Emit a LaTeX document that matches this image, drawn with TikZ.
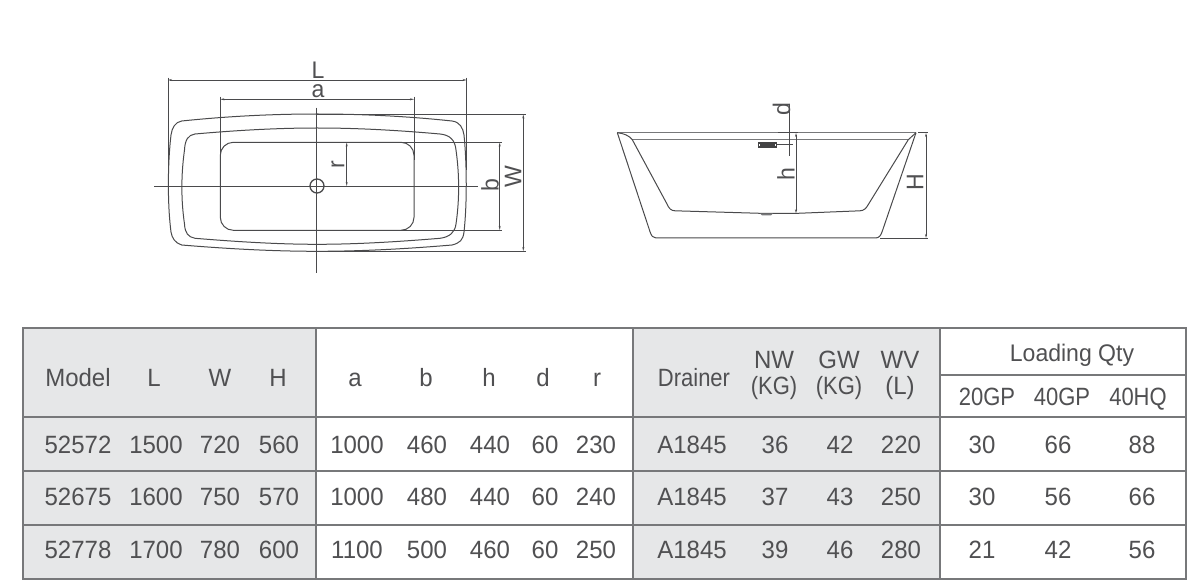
\documentclass[tikz,border=0pt]{standalone}
\usepackage{fontspec}
\usetikzlibrary{arrows.meta}
\setmainfont[FakeStretch=0.96]{Liberation Sans}
\newfontfamily\tightf[FakeStretch=0.88]{Liberation Sans}
\definecolor{txt}{HTML}{505052}
\definecolor{rule}{HTML}{77787A}
\definecolor{band}{HTML}{E6E7E8}
\definecolor{ink}{HTML}{4A4A4C}
\tikzset{
  cell/.style={inner sep=0pt,text=txt,font=\fontsize{25}{25}\selectfont,text height=17pt,text depth=0pt},
  small/.style={cell,font=\fontsize{24}{24}\selectfont},
  dimtxt/.style={inner sep=0pt,text=txt,font=\fontsize{24}{24}\selectfont},
  grid/.style={draw=rule,line width=1.5pt},
  tub/.style={draw=ink,line width=1pt,line join=round},
  rim/.style={draw=rule,line width=1.3pt},
  dim/.style={draw=ink,line width=.8pt},
  span/.style={dim,{Stealth[length=4pt,width=2pt]}-{Stealth[length=4pt,width=2pt]}},
}
\newcommand{\rowcells}[3]{%
  \foreach \cx/\ct [count=\ci] in {#3}{\node[cell] (#1-\ci) at (\cx,#2) {\ct};}}
\begin{document}
\begin{tikzpicture}[x=1pt,y=-1pt]
\useasboundingbox (0,0) rectangle (1200,588);
\fill[white] (0,0) rectangle (1200,588);
% ---------- plan view
\coordinate (pc) at (317,186);
\draw[tub] (181.7,121) .. controls (230,116) and (275,114) .. (317,114)
  .. controls (360,114) and (405,116) .. (452,121)
  .. controls (460,122) and (463,128) .. (464,135)
  .. controls (467,165) and (467,205) .. (464,232)
  .. controls (463,240) and (460,243) .. (452,245)
  .. controls (405,249) and (360,251.3) .. (317,251.3)
  .. controls (275,251.3) and (230,249) .. (181.7,245)
  .. controls (175,243) and (172,238) .. (171,232)
  .. controls (167.5,205) and (167.5,165) .. (171,135)
  .. controls (172,128) and (175,122) .. (181.7,121) -- cycle;
\draw[tub] (195,134) .. controls (240,130) and (280,128) .. (317,128)
  .. controls (355,128) and (395,130) .. (440,134)
  .. controls (450,135) and (455,140) .. (456,150)
  .. controls (459.5,175) and (459.5,200) .. (456,224)
  .. controls (455,232) and (450,237) .. (440,238.3)
  .. controls (395,242) and (355,244.3) .. (317,244.3)
  .. controls (280,244.3) and (240,242) .. (195,238.3)
  .. controls (188,237) and (185,233) .. (184.5,224)
  .. controls (181,200) and (181,175) .. (184.5,150)
  .. controls (185,140) and (188,135) .. (195,134) -- cycle;
\draw[tub,rounded corners=13pt] (220.3,142.3) rectangle (414,230.3);
\draw[dim] (154.3,186) -- (478,186);
\draw[dim] (316.7,107.7) -- (316.7,272.7);
\draw[tub,line width=1.3pt] (pc) circle (7);
% plan dimensions
\draw[dim] (168,77.7) -- (168,183);
\draw[dim] (466.7,77.7) -- (466.7,170);
\draw[span] (168,80) -- (466.7,80);
\draw[dim] (220.3,96.7) -- (220.3,160);
\draw[dim] (414,96.7) -- (414,160);
\draw[span] (220.3,99.3) -- (414,99.3);
\draw[dim] (316,114) -- (526,114);
\draw[dim] (316,251.3) -- (526,251.3);
\draw[span] (523.3,114.5) -- (523.3,251);
\draw[dim] (400,142.3) -- (501.7,142.3);
\draw[dim] (400,230.3) -- (501.7,230.3);
\draw[span] (499.7,142.5) -- (499.7,230);
\draw[span] (346.7,142.5) -- (346.7,186);
\node[dimtxt,text height=17pt,text depth=0pt] (lL) at (318,70.5) {L};
\node[dimtxt,text height=12.5pt,text depth=0pt] (la) at (318,91.5) {a};
\node[dimtxt,rotate=90] (lr) at (338,165) {r};
\node[dimtxt,rotate=90] (lb) at (490,185) {b};
\node[dimtxt,rotate=90] (lW) at (513,176.7) {W};
% ---------- side view
\draw[rim] (617.3,132.7) -- (916,132.7);
\draw[rim] (632.3,139.7) -- (908.3,139.7);
\draw[tub] (617.3,132.7) -- (650,231.7) .. controls (651.5,236) and (653,238) .. (656,238)
  -- (875,238) .. controls (879,238) and (880.5,236) .. (882,232) -- (916,132.7);
\draw[tub] (617.3,132.7) .. controls (624,133.5) and (629,135.5) .. (632.3,139.7)
  -- (667,204) .. controls (669,208.5) and (671,210.7) .. (675,210.8)
  -- (760,213.3) -- (798,213.3) -- (860,210.8)
  .. controls (864,210.5) and (866,208.5) .. (868,205) -- (908.3,139.7) -- (916,132.7);
\fill[rule] (760,213.3) -- (773,213.3) -- (771,215.5) -- (762,215.5) -- cycle;
\fill[ink!90!black] (757.7,142) rectangle (777.3,148.3);
\fill[white] (759.2,144) rectangle (760.4,146);
\fill[white] (774.6,144) rectangle (775.8,146);
\draw[dim] (777.3,144.7) -- (792.7,144.7);
\draw[dim] (778,132.7) -- (798,132.7);
\draw[dim] (789,104) -- (789,155.7);
\draw[span] (796,133) -- (796,213.3);
\draw[dim] (880,238) -- (928,238);
\draw[dim] (918,132.7) -- (928,132.7);
\draw[span] (926,133) -- (926,238);
\node[dimtxt,rotate=90] (ld) at (781.5,109) {d};
\node[dimtxt,rotate=90] (lh) at (786,174.3) {h};
\node[dimtxt,rotate=90] (lH) at (915,181.7) {H};
% ---------- table
\fill[band] (23,328) rectangle (316,579);
\fill[band] (633,328) rectangle (940,579);
\draw[grid] (23,328) rectangle (1186,579);
\draw[grid] (23,417) -- (1186,417);
\draw[grid] (23,471) -- (1186,471);
\draw[grid] (23,525) -- (1186,525);
\draw[grid] (316,328) -- (316,579);
\draw[grid] (633,328) -- (633,579);
\draw[grid] (940,328) -- (940,579);
\draw[grid] (940,375) -- (1186,375);
\rowcells{hd}{378}{78/Model,154/L,220/W,278/H,355/a,426/b,489/h,543/d,597/r,694/{\tightf Drainer}}
\rowcells{ht}{360}{774/NW,839/GW,900/WV}
\rowcells{hu}{386}{774/{\tightf (KG)},839/{\tightf (KG)},900/(L)}
\node[small] (lq) at (1072,353) {Loading Qty};
\rowcells{hq}{397}{987/{\tightf 20GP},1062/{\tightf 40GP},1138/{\tightf 40HQ}}
\rowcells{ra}{445}{78/52572,156/1500,220/720,279/560,357/1000,427/460,490/440,545/60,596/230,692/A1845,775/36,840/42,901/220,982/30,1058/66,1142/88}
\rowcells{rb}{497}{78/52675,156/1600,220/750,279/570,357/1000,427/480,490/440,545/60,596/240,692/A1845,775/37,840/43,901/250,982/30,1058/56,1142/66}
\rowcells{rc}{550}{78/52778,156/1700,220/780,279/600,357/1100,427/500,490/460,545/60,596/250,692/A1845,775/39,840/46,901/280,982/21,1058/42,1142/56}
\end{tikzpicture}
\end{document}
